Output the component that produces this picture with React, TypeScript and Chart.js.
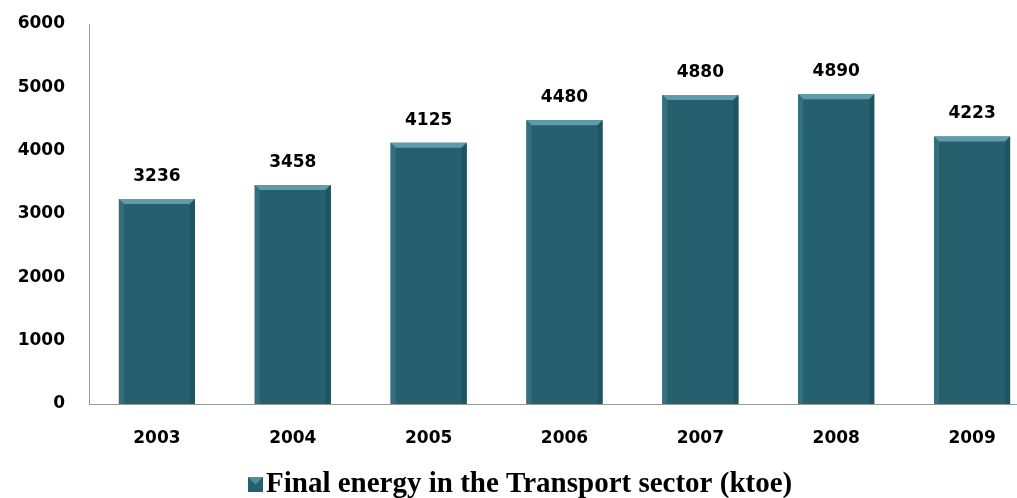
import React, { useEffect, useRef } from "react";
import { Chart, registerables } from "chart.js";

Chart.register(...registerables);

const years = ["2003", "2004", "2005", "2006", "2007", "2008", "2009"];
const energy = [3236, 3458, 4125, 4480, 4880, 4890, 4223];
const yTicks = [0, 1000, 2000, 3000, 4000, 5000, 6000];
const seriesLabel = "Final energy in the Transport sector (ktoe)";

const sansFont = "'DejaVu Sans', sans-serif";
const barColor = "#265f6d";

const labelPlugin = {
  id: "valueLabels",
  afterDatasetsDraw(chart: any) {
    const ctx = chart.ctx;
    const meta = chart.getDatasetMeta(0);
    ctx.save();
    meta.data.forEach((bar: any) => {
      const half = bar.width / 2;
      const l = bar.x - half;
      const r = bar.x + half;
      const t = bar.y;
      const d = 5;
      ctx.fillStyle = "#5f9cab";
      ctx.beginPath();
      ctx.moveTo(l, t);
      ctx.lineTo(r, t);
      ctx.lineTo(r - d, t + d);
      ctx.lineTo(l + d, t + d);
      ctx.closePath();
      ctx.fill();
      ctx.fillStyle = "#336f7e";
      ctx.beginPath();
      ctx.moveTo(l, t);
      ctx.lineTo(l + d, t + d);
      ctx.lineTo(l + d, bar.base);
      ctx.lineTo(l, bar.base);
      ctx.closePath();
      ctx.fill();
      ctx.fillStyle = "#1f5563";
      ctx.beginPath();
      ctx.moveTo(r, t);
      ctx.lineTo(r - d, t + d);
      ctx.lineTo(r - d, bar.base);
      ctx.lineTo(r, bar.base);
      ctx.closePath();
      ctx.fill();
    });
    ctx.font = "bold 17px " + sansFont;
    ctx.fillStyle = "#000";
    ctx.textAlign = "center";
    ctx.textBaseline = "bottom";
    meta.data.forEach((bar: any, i: number) => {
      ctx.fillText(String(energy[i]), bar.x, bar.y - 14);
    });
    ctx.restore();
  },
};

const legendPlugin = {
  id: "customLegend",
  afterDraw(chart: any) {
    const ctx = chart.ctx;
    ctx.save();
    ctx.font = "bold 29px 'Liberation Serif', serif";
    const tw = ctx.measureText(seriesLabel).width;
    const box = 15;
    const gap = 3;
    const total = box + gap + tw;
    const cx = chart.width / 2;
    const x0 = Math.round(cx - total / 2);
    const baseline = 492;
    ctx.fillStyle = barColor;
    ctx.fillRect(x0, baseline - box, box, box);
    ctx.fillStyle = "#4f8e9d";
    ctx.beginPath();
    ctx.moveTo(x0, baseline - box);
    ctx.lineTo(x0 + box, baseline - box);
    ctx.lineTo(x0 + box / 2, baseline - box / 2);
    ctx.closePath();
    ctx.fill();
    ctx.fillStyle = "#000";
    ctx.textAlign = "left";
    ctx.textBaseline = "alphabetic";
    ctx.fillText(seriesLabel, x0 + box + gap, baseline);
    ctx.restore();
  },
};

export default function App() {
  const ref = useRef<HTMLCanvasElement>(null);
  useEffect(() => {
    if (!ref.current) return;
    const chart = new Chart(ref.current, {
      type: "bar",
      data: {
        labels: years,
        datasets: [
          {
            label: seriesLabel,
            data: energy,
            backgroundColor: barColor,
            borderWidth: 0,
            barPercentage: 0.56,
            categoryPercentage: 1,
          },
        ],
      },
      options: {
        responsive: false,
        animation: false,
        layout: { padding: { top: 24, left: 0, right: 0, bottom: 47 }, autoPadding: false },
        plugins: {
          tooltip: { enabled: false },
          legend: { display: false },
        },
        scales: {
          x: {
            grid: { display: false, drawTicks: false },
            border: { display: true, color: "#999", width: 1 },
            ticks: {
              color: "#000",
              padding: 24,
              font: { family: sansFont, size: 17, weight: "bold" },
            },
            afterFit: (s: any) => {
              s.height = 47;
            },
          },
          y: {
            min: 0,
            max: 6000,
            afterBuildTicks: (s: any) => {
              s.ticks = yTicks.map((v) => ({ value: v }));
            },
            grid: { display: false, drawTicks: false },
            border: { display: true, color: "#999", width: 1 },
            ticks: {
              color: "#000",
              padding: 24,
              font: { family: sansFont, size: 17, weight: "bold" },
              callback: (v: any) => String(v),
            },
            afterFit: (s: any) => {
              s.width = 89;
              s.paddingTop = 0;
              s.paddingBottom = 0;
            },
          },
        },
      },
      plugins: [labelPlugin, legendPlugin],
    });
    return () => chart.destroy();
  }, []);
  return (
    <div style={{ position: "fixed", left: 0, top: 0, width: 1017, height: 498, overflow: "hidden", background: "#fff" }}>
      <canvas ref={ref} width={1040} height={498} style={{ display: "block" }} />
    </div>
  );
}
